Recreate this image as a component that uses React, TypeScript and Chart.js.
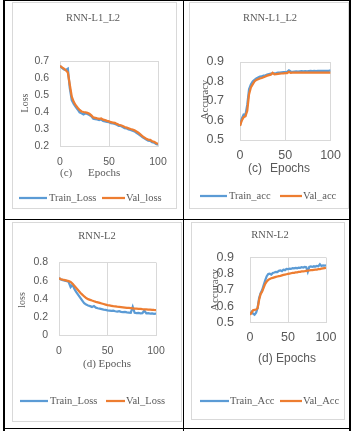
import React, { useEffect, useRef } from "react";
import { Chart, registerables } from "chart.js";

Chart.register(...registerables);

// ---------- data ----------
const epochs = [0, 2, 4, 6, 8, 10, 12, 14, 16, 18, 20, 22, 24, 26, 28, 30, 32, 34, 36, 38, 40, 42, 44, 46, 48, 50, 52, 54, 56, 58, 60, 62, 64, 66, 68, 70, 72, 74, 76, 78, 80, 82, 84, 86, 88, 90, 92, 94, 96, 98, 100];

const l1l2TrainLoss = [0.670, 0.660, 0.650, 0.648, 0.655, 0.540, 0.470, 0.448, 0.430, 0.415, 0.398, 0.392, 0.385, 0.392, 0.388, 0.382, 0.375, 0.360, 0.358, 0.356, 0.352, 0.356, 0.348, 0.345, 0.342, 0.340, 0.335, 0.333, 0.330, 0.325, 0.318, 0.318, 0.312, 0.305, 0.303, 0.298, 0.295, 0.290, 0.286, 0.278, 0.270, 0.262, 0.252, 0.245, 0.238, 0.232, 0.230, 0.222, 0.220, 0.212, 0.208];
const l1l2ValLoss = [0.672, 0.662, 0.655, 0.645, 0.632, 0.560, 0.490, 0.460, 0.440, 0.425, 0.412, 0.403, 0.400, 0.398, 0.395, 0.390, 0.380, 0.368, 0.365, 0.362, 0.360, 0.362, 0.355, 0.352, 0.348, 0.345, 0.340, 0.338, 0.336, 0.330, 0.325, 0.322, 0.318, 0.312, 0.308, 0.304, 0.300, 0.297, 0.292, 0.285, 0.278, 0.268, 0.258, 0.250, 0.243, 0.238, 0.236, 0.228, 0.225, 0.218, 0.212];

const l1l2TrainAcc = [0.575, 0.610, 0.630, 0.628, 0.680, 0.760, 0.785, 0.800, 0.808, 0.815, 0.820, 0.825, 0.826, 0.830, 0.832, 0.835, 0.838, 0.840, 0.841, 0.842, 0.843, 0.845, 0.846, 0.847, 0.848, 0.848, 0.849, 0.857, 0.851, 0.850, 0.851, 0.852, 0.851, 0.852, 0.853, 0.852, 0.853, 0.852, 0.853, 0.854, 0.853, 0.854, 0.853, 0.854, 0.855, 0.854, 0.855, 0.854, 0.855, 0.855, 0.857];
const l1l2ValAcc = [0.572, 0.600, 0.617, 0.622, 0.650, 0.735, 0.770, 0.785, 0.800, 0.808, 0.812, 0.816, 0.818, 0.822, 0.826, 0.830, 0.833, 0.835, 0.845, 0.837, 0.838, 0.839, 0.840, 0.841, 0.842, 0.843, 0.843, 0.850, 0.844, 0.845, 0.845, 0.846, 0.845, 0.846, 0.845, 0.846, 0.845, 0.846, 0.846, 0.845, 0.846, 0.846, 0.845, 0.846, 0.846, 0.845, 0.846, 0.846, 0.845, 0.846, 0.846];

const l2TrainLoss = [0.630, 0.612, 0.605, 0.600, 0.595, 0.585, 0.530, 0.555, 0.505, 0.470, 0.440, 0.410, 0.380, 0.350, 0.335, 0.325, 0.318, 0.310, 0.320, 0.302, 0.295, 0.290, 0.285, 0.280, 0.278, 0.272, 0.270, 0.266, 0.268, 0.262, 0.258, 0.262, 0.255, 0.252, 0.255, 0.250, 0.248, 0.245, 0.310, 0.245, 0.242, 0.245, 0.240, 0.242, 0.268, 0.238, 0.240, 0.236, 0.238, 0.234, 0.235];
const l2ValLoss = [0.628, 0.615, 0.610, 0.606, 0.600, 0.594, 0.585, 0.565, 0.540, 0.515, 0.490, 0.466, 0.445, 0.425, 0.408, 0.396, 0.388, 0.380, 0.373, 0.366, 0.360, 0.354, 0.348, 0.342, 0.336, 0.330, 0.326, 0.322, 0.318, 0.315, 0.312, 0.310, 0.308, 0.306, 0.303, 0.300, 0.298, 0.296, 0.294, 0.292, 0.290, 0.288, 0.287, 0.285, 0.284, 0.283, 0.281, 0.280, 0.278, 0.276, 0.275];

const l2TrainAcc = [0.550, 0.565, 0.555, 0.548, 0.560, 0.590, 0.650, 0.680, 0.700, 0.730, 0.760, 0.785, 0.798, 0.800, 0.795, 0.805, 0.808, 0.812, 0.810, 0.818, 0.820, 0.816, 0.825, 0.822, 0.830, 0.828, 0.832, 0.830, 0.835, 0.833, 0.836, 0.834, 0.838, 0.836, 0.840, 0.838, 0.842, 0.840, 0.812, 0.842, 0.845, 0.842, 0.846, 0.844, 0.848, 0.846, 0.858, 0.848, 0.852, 0.850, 0.852];
const l2ValAcc = [0.548, 0.560, 0.575, 0.578, 0.580, 0.588, 0.640, 0.675, 0.690, 0.715, 0.738, 0.752, 0.762, 0.768, 0.772, 0.775, 0.778, 0.781, 0.783, 0.785, 0.787, 0.790, 0.793, 0.795, 0.797, 0.799, 0.801, 0.803, 0.805, 0.806, 0.808, 0.809, 0.811, 0.812, 0.814, 0.815, 0.816, 0.818, 0.819, 0.820, 0.822, 0.823, 0.824, 0.825, 0.826, 0.828, 0.829, 0.831, 0.833, 0.835, 0.837];

const xTicks = [0, 50, 100];

// ---------- styles ----------
const BLUE = "#5B9BD5";
const ORANGE = "#ED7D31";
const GRID = "#d9d9d9";
const TEXT = "#595959";
const SERIF = "'Liberation Serif','Times New Roman',serif";
const SANS = "'Liberation Sans',Arial,sans-serif";

type TextItem = { text: string; x: number; y: number; font: string; align: CanvasTextAlign; rot?: boolean };
type Cfg = {
  x: number; y: number; w: number; h: number;
  plot: { l: number; r: number; t: number; b: number };
  yMin: number; yMax: number; yStep: number;
  tickSize: number; yPad: number; xPad: number;
  trainLabel: string; valLabel: string;
  train: number[]; val: number[];
  texts: TextItem[];
  legendY: number; legendFont: string;
  legend: { x1: number; x2: number; tx: number }[];
};

const charts: Cfg[] = [
  {
    x: 12, y: 2, w: 165, h: 207,
    plot: { l: 48, r: 146, t: 59, b: 144 },
    yMin: 0.2, yMax: 0.7, yStep: 0.1, tickSize: 10.5, yPad: 11, xPad: 10,
    trainLabel: "Train_Loss", valLabel: "Val_loss",
    train: l1l2TrainLoss, val: l1l2ValLoss,
    texts: [
      { text: "RNN-L1_L2", x: 81, y: 16, font: `10.5px ${SERIF}`, align: "center" },
      { text: "Loss", x: 13, y: 101, font: `10px ${SERIF}`, align: "center", rot: true },
      { text: "(c)", x: 48, y: 171, font: `11px ${SERIF}`, align: "left" },
      { text: "Epochs", x: 76, y: 171, font: `11px ${SERIF}`, align: "left" },
    ],
    legendY: 196, legendFont: `10.5px ${SERIF}`,
    legend: [{ x1: 7, x2: 35, tx: 37 }, { x1: 90, x2: 113, tx: 114 }],
  },
  {
    x: 189, y: 2, w: 160, h: 207,
    plot: { l: 51, r: 144, t: 60, b: 138 },
    yMin: 0.5, yMax: 0.9, yStep: 0.1, tickSize: 12.5, yPad: 16, xPad: 8,
    trainLabel: "Train_acc", valLabel: "Val_acc",
    train: l1l2TrainAcc, val: l1l2ValAcc,
    texts: [
      { text: "RNN-L1_L2", x: 81, y: 16, font: `10.5px ${SERIF}`, align: "center" },
      { text: "Accuracy", x: 16, y: 98, font: `10.5px ${SERIF}`, align: "center", rot: true },
      { text: "(c)", x: 59, y: 167, font: `12px ${SANS}`, align: "left" },
      { text: "Epochs", x: 81, y: 167, font: `12px ${SANS}`, align: "left" },
    ],
    legendY: 194, legendFont: `10.5px ${SERIF}`,
    legend: [{ x1: 11, x2: 38, tx: 40 }, { x1: 91, x2: 113, tx: 114 }],
  },
  {
    x: 12, y: 222, w: 170, h: 200,
    plot: { l: 47, r: 144, t: 40.5, b: 113 },
    yMin: 0, yMax: 0.8, yStep: 0.2, tickSize: 10.5, yPad: 11, xPad: 10,
    trainLabel: "Train_Loss", valLabel: "Val_Loss",
    train: l2TrainLoss, val: l2ValLoss,
    texts: [
      { text: "RNN-L2", x: 85, y: 14, font: `10.5px ${SERIF}`, align: "center" },
      { text: "loss", x: 10, y: 78, font: `10px ${SERIF}`, align: "center", rot: true },
      { text: "(d) Epochs", x: 95, y: 142, font: `11px ${SERIF}`, align: "center" },
    ],
    legendY: 179, legendFont: `10.5px ${SERIF}`,
    legend: [{ x1: 8, x2: 36, tx: 38 }, { x1: 94, x2: 113, tx: 114 }],
  },
  {
    x: 191, y: 222, w: 154, h: 198,
    plot: { l: 59, r: 135, t: 35.5, b: 100.5 },
    yMin: 0.5, yMax: 0.9, yStep: 0.1, tickSize: 12.5, yPad: 16, xPad: 8,
    trainLabel: "Train_Acc", valLabel: "Val_Acc",
    train: l2TrainAcc, val: l2ValAcc,
    texts: [
      { text: "RNN-L2", x: 79, y: 13, font: `10.5px ${SERIF}`, align: "center" },
      { text: "Accuracy", x: 24, y: 68, font: `11px ${SERIF}`, align: "center", rot: true },
      { text: "(d) Epochs", x: 96, y: 137, font: `12px ${SANS}`, align: "center" },
    ],
    legendY: 179, legendFont: `10.5px ${SERIF}`,
    legend: [{ x1: 9, x2: 38, tx: 39 }, { x1: 89, x2: 111, tx: 112 }],
  },
];

function makeDecor(cfg: Cfg) {
  return {
    id: "decor",
    afterDraw(chart: any) {
      const ctx: CanvasRenderingContext2D = chart.ctx;
      ctx.save();
      ctx.fillStyle = TEXT;
      ctx.textBaseline = "middle";
      for (const t of cfg.texts) {
        ctx.font = t.font;
        ctx.textAlign = t.align;
        if (t.rot) {
          ctx.save();
          ctx.translate(t.x, t.y);
          ctx.rotate(-Math.PI / 2);
          ctx.fillText(t.text, 0, 0);
          ctx.restore();
        } else {
          ctx.fillText(t.text, t.x, t.y);
        }
      }
      cfg.legend.forEach((it, i) => {
        const ds = chart.data.datasets[i];
        ctx.strokeStyle = ds.borderColor;
        ctx.lineWidth = 2.25;
        ctx.beginPath();
        ctx.moveTo(it.x1, cfg.legendY);
        ctx.lineTo(it.x2, cfg.legendY);
        ctx.stroke();
        ctx.font = cfg.legendFont;
        ctx.textAlign = "left";
        ctx.fillStyle = TEXT;
        ctx.fillText(ds.label, it.tx, cfg.legendY);
      });
      ctx.restore();
    },
  };
}

function LineChart({ cfg }: { cfg: Cfg }) {
  const ref = useRef<HTMLCanvasElement | null>(null);
  useEffect(() => {
    if (!ref.current) return;
    const axisH = 30;
    const chart = new Chart(ref.current, {
      type: "line",
      data: {
        datasets: [
          {
            label: cfg.trainLabel,
            data: epochs.map((e, i) => ({ x: e, y: cfg.train[i] })),
            borderColor: BLUE,
            backgroundColor: BLUE,
            borderWidth: 2.25,
            pointRadius: 0,
            tension: 0,
            order: 1,
          },
          {
            label: cfg.valLabel,
            data: epochs.map((e, i) => ({ x: e, y: cfg.val[i] })),
            borderColor: ORANGE,
            backgroundColor: ORANGE,
            borderWidth: 2.25,
            pointRadius: 0,
            tension: 0,
            order: 0,
          },
        ],
      },
      options: {
        responsive: false,
        animation: false,
        devicePixelRatio: 1,
        layout: {
          padding: {
            left: 0,
            top: cfg.plot.t,
            right: cfg.w - cfg.plot.r,
            bottom: cfg.h - cfg.plot.b - axisH,
          },
        },
        plugins: {
          legend: { display: false },
          title: { display: false },
          tooltip: { enabled: false },
        },
        scales: {
          x: {
            type: "linear",
            min: xTicks[0],
            max: xTicks[xTicks.length - 1],
            afterBuildTicks: (s: any) => {
              s.ticks = xTicks.map((v) => ({ value: v }));
            },
            ticks: {
              padding: cfg.xPad,
              color: TEXT,
              maxRotation: 0,
              autoSkip: false,
              font: { family: SANS, size: cfg.tickSize },
            },
            grid: { color: GRID, drawTicks: false, lineWidth: 1 },
            border: { display: true, color: GRID },
            afterFit: (s: any) => {
              s.height = axisH;
            },
          },
          y: {
            type: "linear",
            min: cfg.yMin,
            max: cfg.yMax,
            ticks: {
              stepSize: cfg.yStep,
              padding: cfg.yPad,
              color: TEXT,
              autoSkip: false,
              font: { family: SANS, size: cfg.tickSize },
            },
            grid: {
              drawTicks: false,
              lineWidth: 1,
              color: (c: any) =>
                c.tick && Math.abs(c.tick.value - cfg.yMax) < 1e-6 ? GRID : "rgba(0,0,0,0)",
            },
            border: { display: false },
            afterFit: (s: any) => {
              s.width = cfg.plot.l;
            },
          },
        },
      },
      plugins: [makeDecor(cfg)],
    } as any);
    return () => chart.destroy();
  }, [cfg]);
  return (
    <canvas
      ref={ref}
      width={cfg.w}
      height={cfg.h}
      style={{ position: "absolute", left: cfg.x, top: cfg.y, width: cfg.w, height: cfg.h }}
    />
  );
}

const line = (left: number, top: number, width: number, height: number, color: string) => (
  <div style={{ position: "absolute", left, top, width, height, background: color }} />
);

export default function App() {
  return (
    <div style={{ position: "absolute", left: 0, top: 0, width: 354, height: 431, background: "#fff", overflow: "hidden" }}>
      {charts.map((c, i) => (
        <LineChart key={i} cfg={c} />
      ))}
      {charts.map((c, i) => (
        <div
          key={"b" + i}
          style={{
            position: "absolute",
            left: c.x,
            top: c.y,
            width: c.w,
            height: c.h,
            border: `1px solid ${GRID}`,
            boxSizing: "border-box",
            pointerEvents: "none",
          }}
        />
      ))}
      {line(3, 0, 348, 1, "#000")}
      {line(3, 0, 2, 431, "#000")}
      {line(183, 0, 1, 431, "#000")}
      {line(349, 0, 2, 431, "#000")}
      {line(3, 219, 348, 1, "#000")}
      {line(3, 428, 348, 1, "#000")}
    </div>
  );
}
